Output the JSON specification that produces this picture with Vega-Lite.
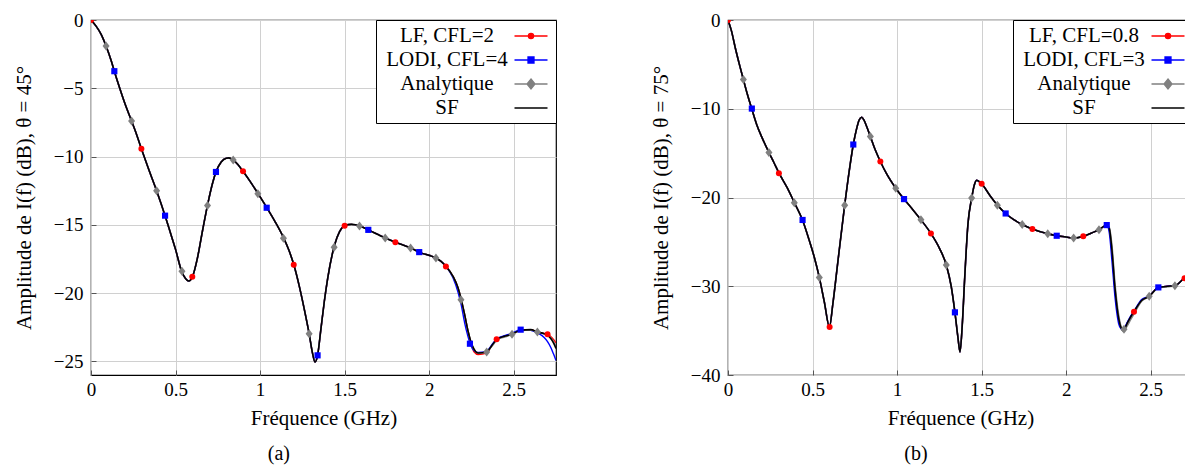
{
  "$schema": "https://vega.github.io/schema/vega-lite/v6.json",
  "background": "white",
  "padding": {"left": 12, "top": 10, "right": 0, "bottom": 0},
  "config": {
    "font": "Liberation Serif, DejaVu Serif, serif",
    "view": {"stroke": "black", "strokeWidth": 1.2},
    "axis": {
      "labelFont": "Liberation Serif, DejaVu Serif, serif", "labelFontSize": 19, "labelColor": "black",
      "titleFont": "Liberation Serif, DejaVu Serif, serif", "titleFontSize": 21, "titleFontWeight": "normal", "titleColor": "black",
      "gridColor": "#d0d0d0", "gridWidth": 1, "domain": false,
      "tickColor": "#555555", "tickSize": -5, "tickWidth": 1,
      "labelFlush": false, "labelOverlap": false, "format": "~g"
    },
    "axisX": {"labelPadding": 10, "titlePadding": 8},
    "axisY": {"labelPadding": 13, "titlePadding": 19},
    "concat": {"spacing": 91}
  },
  "resolve": {"scale": {"color": "independent"}, "legend": {"color": "independent"}},
  "datasets": {
    "aL": [
      {"f":0,"SF":0,"LF":0,"LODI":0,"ANA":0},
      {"f":0.03,"SF":-0.45,"LF":-0.45,"LODI":-0.45,"ANA":-0.45},
      {"f":0.06,"SF":-1.05,"LF":-1.05,"LODI":-1.05,"ANA":-1.05},
      {"f":0.089,"SF":-1.9,"LF":-1.9,"LODI":-1.9,"ANA":-1.9},
      {"f":0.12,"SF":-3.0,"LF":-3.0,"LODI":-3.0,"ANA":-3.0},
      {"f":0.138,"SF":-3.75,"LF":-3.75,"LODI":-3.75,"ANA":-3.75},
      {"f":0.17,"SF":-5.0,"LF":-5.0,"LODI":-5.0,"ANA":-5.0},
      {"f":0.2,"SF":-6.1,"LF":-6.1,"LODI":-6.1,"ANA":-6.1},
      {"f":0.24,"SF":-7.4,"LF":-7.4,"LODI":-7.4,"ANA":-7.4},
      {"f":0.27,"SF":-8.4,"LF":-8.4,"LODI":-8.4,"ANA":-8.4},
      {"f":0.3,"SF":-9.5,"LF":-9.5,"LODI":-9.5,"ANA":-9.5},
      {"f":0.34,"SF":-10.9,"LF":-10.9,"LODI":-10.9,"ANA":-10.9},
      {"f":0.388,"SF":-12.5,"LF":-12.5,"LODI":-12.5,"ANA":-12.5},
      {"f":0.438,"SF":-14.33,"LF":-14.33,"LODI":-14.33,"ANA":-14.33},
      {"f":0.47,"SF":-15.6,"LF":-15.6,"LODI":-15.6,"ANA":-15.6},
      {"f":0.5,"SF":-16.8,"LF":-16.8,"LODI":-16.8,"ANA":-16.8},
      {"f":0.536,"SF":-18.4,"LF":-18.4,"LODI":-18.4,"ANA":-18.4},
      {"f":0.56,"SF":-18.95,"LF":-18.95,"LODI":-18.95,"ANA":-18.95},
      {"f":0.578,"SF":-19.12,"LF":-19.12,"LODI":-19.12,"ANA":-19.12},
      {"f":0.6,"SF":-18.8,"LF":-18.8,"LODI":-18.8,"ANA":-18.8},
      {"f":0.63,"SF":-17.4,"LF":-17.4,"LODI":-17.4,"ANA":-17.4},
      {"f":0.66,"SF":-15.4,"LF":-15.4,"LODI":-15.4,"ANA":-15.4},
      {"f":0.69,"SF":-13.5,"LF":-13.5,"LODI":-13.5,"ANA":-13.5},
      {"f":0.72,"SF":-11.9,"LF":-11.9,"LODI":-11.9,"ANA":-11.9},
      {"f":0.74,"SF":-11.1,"LF":-11.1,"LODI":-11.1,"ANA":-11.1},
      {"f":0.77,"SF":-10.4,"LF":-10.4,"LODI":-10.4,"ANA":-10.4},
      {"f":0.8,"SF":-10.12,"LF":-10.12,"LODI":-10.12,"ANA":-10.12},
      {"f":0.815,"SF":-10.1,"LF":-10.1,"LODI":-10.1,"ANA":-10.1},
      {"f":0.84,"SF":-10.25,"LF":-10.25,"LODI":-10.25,"ANA":-10.25},
      {"f":0.87,"SF":-10.6,"LF":-10.6,"LODI":-10.6,"ANA":-10.6},
      {"f":0.9,"SF":-11.1,"LF":-11.1,"LODI":-11.1,"ANA":-11.1},
      {"f":0.94,"SF":-11.8,"LF":-11.8,"LODI":-11.8,"ANA":-11.8},
      {"f":0.988,"SF":-12.72,"LF":-12.72,"LODI":-12.72,"ANA":-12.72},
      {"f":1.04,"SF":-13.75,"LF":-13.75,"LODI":-13.75,"ANA":-13.75},
      {"f":1.09,"SF":-14.8,"LF":-14.8,"LODI":-14.8,"ANA":-14.8},
      {"f":1.14,"SF":-15.98,"LF":-15.98,"LODI":-15.98,"ANA":-15.98},
      {"f":1.17,"SF":-16.85,"LF":-16.85,"LODI":-16.85,"ANA":-16.85},
      {"f":1.2,"SF":-17.95,"LF":-17.95,"LODI":-17.95,"ANA":-17.95},
      {"f":1.23,"SF":-19.4,"LF":-19.4,"LODI":-19.4,"ANA":-19.4},
      {"f":1.26,"SF":-21.1,"LF":-21.1,"LODI":-21.1,"ANA":-21.1},
      {"f":1.29,"SF":-22.97,"LF":-22.97,"LODI":-22.97,"ANA":-22.97},
      {"f":1.31,"SF":-24.4,"LF":-24.4,"LODI":-24.4,"ANA":-24.4},
      {"f":1.325,"SF":-25.05,"LF":-25.05,"LODI":-25.05,"ANA":-25.05},
      {"f":1.34,"SF":-24.56,"LF":-24.56,"LODI":-24.56,"ANA":-24.56},
      {"f":1.36,"SF":-22.6,"LF":-22.6,"LODI":-22.6,"ANA":-22.6},
      {"f":1.38,"SF":-20.6,"LF":-20.6,"LODI":-20.6,"ANA":-20.6},
      {"f":1.4,"SF":-18.9,"LF":-18.9,"LODI":-18.9,"ANA":-18.9},
      {"f":1.44,"SF":-16.5,"LF":-16.5,"LODI":-16.5,"ANA":-16.5},
      {"f":1.47,"SF":-15.5,"LF":-15.5,"LODI":-15.5,"ANA":-15.5},
      {"f":1.5,"SF":-15.07,"LF":-15.07,"LODI":-15.07,"ANA":-15.07},
      {"f":1.54,"SF":-14.97,"LF":-14.97,"LODI":-14.97,"ANA":-14.97},
      {"f":1.59,"SF":-15.08,"LF":-15.08,"LODI":-15.08,"ANA":-15.08},
      {"f":1.64,"SF":-15.37,"LF":-15.37,"LODI":-15.37,"ANA":-15.37},
      {"f":1.74,"SF":-15.96,"LF":-15.96,"LODI":-15.96,"ANA":-15.96},
      {"f":1.8,"SF":-16.27,"LF":-16.27,"LODI":-16.27,"ANA":-16.27},
      {"f":1.89,"SF":-16.69,"LF":-16.69,"LODI":-16.69,"ANA":-16.69},
      {"f":1.94,"SF":-17.0,"LF":-17.0,"LODI":-17.0,"ANA":-17.0},
      {"f":2.04,"SF":-17.44,"LF":-17.44,"LODI":-17.44,"ANA":-17.44},
      {"f":2.07,"SF":-17.68,"LF":-17.68,"LODI":-17.68,"ANA":-17.68},
      {"f":2.1,"SF":-18.05,"LF":-18.05,"LODI":-18.05,"ANA":-18.05},
      {"f":2.14,"SF":-18.75,"LF":-18.75,"LODI":-18.85,"ANA":-18.75},
      {"f":2.17,"SF":-19.6,"LF":-19.6,"LODI":-19.9,"ANA":-19.6},
      {"f":2.19,"SF":-20.5,"LF":-20.5,"LODI":-20.9,"ANA":-20.5},
      {"f":2.21,"SF":-21.6,"LF":-21.6,"LODI":-22.2,"ANA":-21.6},
      {"f":2.23,"SF":-22.8,"LF":-22.8,"LODI":-23.2,"ANA":-22.8},
      {"f":2.245,"SF":-23.5,"LF":-23.55,"LODI":-23.8,"ANA":-23.5},
      {"f":2.265,"SF":-24.1,"LF":-24.3,"LODI":-24.2,"ANA":-24.1},
      {"f":2.29,"SF":-24.39,"LF":-24.5,"LODI":-24.35,"ANA":-24.39},
      {"f":2.34,"SF":-24.31,"LF":-24.4,"LODI":-24.25,"ANA":-24.31},
      {"f":2.37,"SF":-23.85,"LF":-23.85,"LODI":-23.8,"ANA":-23.9},
      {"f":2.4,"SF":-23.39,"LF":-23.39,"LODI":-23.35,"ANA":-23.45},
      {"f":2.45,"SF":-23.15,"LF":-23.15,"LODI":-23.1,"ANA":-23.2},
      {"f":2.49,"SF":-23.0,"LF":-23.0,"LODI":-22.95,"ANA":-23.02},
      {"f":2.54,"SF":-22.72,"LF":-22.72,"LODI":-22.68,"ANA":-22.75},
      {"f":2.6,"SF":-22.68,"LF":-22.68,"LODI":-22.72,"ANA":-22.7},
      {"f":2.64,"SF":-22.85,"LF":-22.85,"LODI":-22.92,"ANA":-22.85},
      {"f":2.68,"SF":-22.98,"LF":-22.95,"LODI":-23.25,"ANA":-22.98},
      {"f":2.7,"SF":-23.1,"LF":-23.0,"LODI":-23.55,"ANA":-23.05},
      {"f":2.72,"SF":-23.35,"LF":-23.2,"LODI":-24.0,"ANA":-23.3},
      {"f":2.735,"SF":-23.65,"LF":-23.4,"LODI":-24.45,"ANA":-23.55},
      {"f":2.75,"SF":-24.05,"LF":-23.65,"LODI":-24.93,"ANA":-23.9}
    ],
    "aM": [
      {"s":"LF","f":0,"v":0},{"s":"LF","f":0.298,"v":-9.43},{"s":"LF","f":0.599,"v":-18.8},{"s":"LF","f":0.899,"v":-11.08},{"s":"LF","f":1.199,"v":-17.93},{"s":"LF","f":1.5,"v":-15.07},{"s":"LF","f":1.8,"v":-16.27},{"s":"LF","f":2.099,"v":-18.05},{"s":"LF","f":2.399,"v":-23.39},{"s":"LF","f":2.7,"v":-23.02},
      {"s":"LODI","f":0.138,"v":-3.75},{"s":"LODI","f":0.438,"v":-14.33},{"s":"LODI","f":0.739,"v":-11.13},{"s":"LODI","f":1.039,"v":-13.75},{"s":"LODI","f":1.34,"v":-24.56},{"s":"LODI","f":1.64,"v":-15.37},{"s":"LODI","f":1.941,"v":-17.0},{"s":"LODI","f":2.241,"v":-23.71},{"s":"LODI","f":2.541,"v":-22.68},
      {"s":"ANA","f":0.089,"v":-1.9},{"s":"ANA","f":0.24,"v":-7.4},{"s":"ANA","f":0.388,"v":-12.5},{"s":"ANA","f":0.538,"v":-18.4},{"s":"ANA","f":0.689,"v":-13.58},{"s":"ANA","f":0.841,"v":-10.26},{"s":"ANA","f":0.987,"v":-12.72},{"s":"ANA","f":1.138,"v":-15.98},{"s":"ANA","f":1.29,"v":-22.97},{"s":"ANA","f":1.438,"v":-16.64},{"s":"ANA","f":1.588,"v":-15.08},{"s":"ANA","f":1.74,"v":-15.96},{"s":"ANA","f":1.89,"v":-16.69},{"s":"ANA","f":2.04,"v":-17.44},{"s":"ANA","f":2.188,"v":-20.49},{"s":"ANA","f":2.34,"v":-24.31},{"s":"ANA","f":2.49,"v":-23.02},{"s":"ANA","f":2.64,"v":-22.85}
    ],
    "bL": [
      {"f":0,"SF":0,"LF":0,"LODI":0,"ANA":0},
      {"f":0.02,"SF":-1.2,"LF":-1.2,"LODI":-1.2,"ANA":-1.2},
      {"f":0.045,"SF":-3.3,"LF":-3.3,"LODI":-3.3,"ANA":-3.3},
      {"f":0.07,"SF":-5.2,"LF":-5.2,"LODI":-5.2,"ANA":-5.2},
      {"f":0.091,"SF":-6.71,"LF":-6.71,"LODI":-6.71,"ANA":-6.71},
      {"f":0.115,"SF":-8.4,"LF":-8.4,"LODI":-8.4,"ANA":-8.4},
      {"f":0.14,"SF":-9.98,"LF":-9.98,"LODI":-9.98,"ANA":-9.98},
      {"f":0.17,"SF":-11.8,"LF":-11.8,"LODI":-11.8,"ANA":-11.8},
      {"f":0.2,"SF":-13.2,"LF":-13.2,"LODI":-13.2,"ANA":-13.2},
      {"f":0.242,"SF":-14.93,"LF":-14.93,"LODI":-14.93,"ANA":-14.93},
      {"f":0.27,"SF":-16.0,"LF":-16.0,"LODI":-16.0,"ANA":-16.0},
      {"f":0.302,"SF":-17.26,"LF":-17.26,"LODI":-17.26,"ANA":-17.26},
      {"f":0.35,"SF":-18.9,"LF":-18.9,"LODI":-18.9,"ANA":-18.9},
      {"f":0.392,"SF":-20.56,"LF":-20.56,"LODI":-20.56,"ANA":-20.56},
      {"f":0.44,"SF":-22.51,"LF":-22.51,"LODI":-22.51,"ANA":-22.51},
      {"f":0.48,"SF":-24.8,"LF":-24.8,"LODI":-24.8,"ANA":-24.8},
      {"f":0.51,"SF":-26.7,"LF":-26.7,"LODI":-26.7,"ANA":-26.7},
      {"f":0.54,"SF":-29.0,"LF":-29.0,"LODI":-29.0,"ANA":-29.0},
      {"f":0.57,"SF":-31.8,"LF":-31.8,"LODI":-31.8,"ANA":-31.8},
      {"f":0.6,"SF":-34.6,"LF":-34.6,"LODI":-34.6,"ANA":-34.6},
      {"f":0.62,"SF":-32.0,"LF":-32.0,"LODI":-32.0,"ANA":-32.0},
      {"f":0.65,"SF":-27.2,"LF":-27.2,"LODI":-27.2,"ANA":-27.2},
      {"f":0.69,"SF":-20.86,"LF":-20.86,"LODI":-20.86,"ANA":-20.86},
      {"f":0.72,"SF":-16.6,"LF":-16.6,"LODI":-16.6,"ANA":-16.6},
      {"f":0.741,"SF":-14.03,"LF":-14.03,"LODI":-14.03,"ANA":-14.03},
      {"f":0.76,"SF":-12.3,"LF":-12.3,"LODI":-12.3,"ANA":-12.3},
      {"f":0.775,"SF":-11.3,"LF":-11.3,"LODI":-11.3,"ANA":-11.3},
      {"f":0.79,"SF":-10.95,"LF":-10.95,"LODI":-10.95,"ANA":-10.95},
      {"f":0.805,"SF":-11.3,"LF":-11.3,"LODI":-11.3,"ANA":-11.3},
      {"f":0.82,"SF":-12.0,"LF":-12.0,"LODI":-12.0,"ANA":-12.0},
      {"f":0.842,"SF":-13.13,"LF":-13.13,"LODI":-13.13,"ANA":-13.13},
      {"f":0.87,"SF":-14.6,"LF":-14.6,"LODI":-14.6,"ANA":-14.6},
      {"f":0.901,"SF":-15.94,"LF":-15.94,"LODI":-15.94,"ANA":-15.94},
      {"f":0.94,"SF":-17.4,"LF":-17.4,"LODI":-17.4,"ANA":-17.4},
      {"f":0.992,"SF":-18.95,"LF":-18.95,"LODI":-18.95,"ANA":-18.95},
      {"f":1.041,"SF":-20.18,"LF":-20.18,"LODI":-20.18,"ANA":-20.18},
      {"f":1.09,"SF":-21.3,"LF":-21.3,"LODI":-21.3,"ANA":-21.3},
      {"f":1.141,"SF":-22.51,"LF":-22.51,"LODI":-22.51,"ANA":-22.51},
      {"f":1.2,"SF":-24.05,"LF":-24.05,"LODI":-24.05,"ANA":-24.05},
      {"f":1.25,"SF":-25.7,"LF":-25.7,"LODI":-25.7,"ANA":-25.7},
      {"f":1.291,"SF":-27.61,"LF":-27.61,"LODI":-27.61,"ANA":-27.61},
      {"f":1.32,"SF":-30.0,"LF":-30.0,"LODI":-30.0,"ANA":-30.0},
      {"f":1.342,"SF":-32.94,"LF":-32.94,"LODI":-32.94,"ANA":-32.94},
      {"f":1.36,"SF":-35.8,"LF":-35.8,"LODI":-35.8,"ANA":-35.8},
      {"f":1.372,"SF":-37.4,"LF":-37.4,"LODI":-37.4,"ANA":-37.4},
      {"f":1.385,"SF":-34.5,"LF":-34.5,"LODI":-34.5,"ANA":-34.5},
      {"f":1.4,"SF":-29.0,"LF":-29.0,"LODI":-29.0,"ANA":-29.0},
      {"f":1.419,"SF":-23.0,"LF":-23.0,"LODI":-23.0,"ANA":-23.0},
      {"f":1.441,"SF":-20.07,"LF":-20.07,"LODI":-20.07,"ANA":-20.07},
      {"f":1.458,"SF":-18.5,"LF":-18.5,"LODI":-18.5,"ANA":-18.5},
      {"f":1.471,"SF":-18.05,"LF":-18.05,"LODI":-18.05,"ANA":-18.05},
      {"f":1.5,"SF":-18.46,"LF":-18.46,"LODI":-18.46,"ANA":-18.46},
      {"f":1.55,"SF":-19.8,"LF":-19.8,"LODI":-19.8,"ANA":-19.8},
      {"f":1.593,"SF":-20.86,"LF":-20.86,"LODI":-20.86,"ANA":-20.86},
      {"f":1.642,"SF":-21.8,"LF":-21.8,"LODI":-21.8,"ANA":-21.8},
      {"f":1.69,"SF":-22.5,"LF":-22.5,"LODI":-22.5,"ANA":-22.5},
      {"f":1.74,"SF":-23.04,"LF":-23.04,"LODI":-23.04,"ANA":-23.04},
      {"f":1.8,"SF":-23.56,"LF":-23.56,"LODI":-23.56,"ANA":-23.56},
      {"f":1.891,"SF":-24.09,"LF":-24.09,"LODI":-24.09,"ANA":-24.09},
      {"f":1.944,"SF":-24.31,"LF":-24.31,"LODI":-24.31,"ANA":-24.31},
      {"f":2.0,"SF":-24.45,"LF":-24.45,"LODI":-24.45,"ANA":-24.45},
      {"f":2.044,"SF":-24.57,"LF":-24.57,"LODI":-24.57,"ANA":-24.57},
      {"f":2.101,"SF":-24.38,"LF":-24.38,"LODI":-24.38,"ANA":-24.38},
      {"f":2.15,"SF":-24.0,"LF":-24.0,"LODI":-24.0,"ANA":-24.0},
      {"f":2.194,"SF":-23.64,"LF":-23.64,"LODI":-23.64,"ANA":-23.64},
      {"f":2.24,"SF":-23.11,"LF":-23.11,"LODI":-23.11,"ANA":-23.11},
      {"f":2.255,"SF":-23.5,"LF":-23.6,"LODI":-24.0,"ANA":-23.4},
      {"f":2.27,"SF":-25.8,"LF":-26.0,"LODI":-27.0,"ANA":-25.3},
      {"f":2.289,"SF":-30.3,"LF":-30.5,"LODI":-31.3,"ANA":-29.8},
      {"f":2.31,"SF":-33.6,"LF":-33.7,"LODI":-34.2,"ANA":-33.2},
      {"f":2.325,"SF":-34.7,"LF":-34.7,"LODI":-34.8,"ANA":-34.6},
      {"f":2.338,"SF":-35.0,"LF":-34.9,"LODI":-34.9,"ANA":-35.05},
      {"f":2.36,"SF":-34.2,"LF":-34.2,"LODI":-34.1,"ANA":-34.5},
      {"f":2.38,"SF":-33.5,"LF":-33.5,"LODI":-33.4,"ANA":-33.8},
      {"f":2.401,"SF":-32.87,"LF":-32.87,"LODI":-32.8,"ANA":-33.1},
      {"f":2.446,"SF":-31.6,"LF":-31.6,"LODI":-31.5,"ANA":-31.7},
      {"f":2.491,"SF":-31.14,"LF":-31.14,"LODI":-31.1,"ANA":-31.14},
      {"f":2.545,"SF":-30.13,"LF":-30.13,"LODI":-30.13,"ANA":-30.2},
      {"f":2.6,"SF":-30.0,"LF":-30.0,"LODI":-30.0,"ANA":-30.05},
      {"f":2.643,"SF":-29.94,"LF":-29.94,"LODI":-29.94,"ANA":-29.94},
      {"f":2.696,"SF":-29.15,"LF":-29.12,"LODI":-29.15,"ANA":-29.15},
      {"f":2.75,"SF":-28.6,"LF":-28.6,"LODI":-28.6,"ANA":-28.6}
    ],
    "bM": [
      {"s":"LF","f":0,"v":0},{"s":"LF","f":0.301,"v":-17.26},{"s":"LF","f":0.601,"v":-34.6},{"s":"LF","f":0.901,"v":-15.94},{"s":"LF","f":1.2,"v":-24.05},{"s":"LF","f":1.5,"v":-18.46},{"s":"LF","f":1.8,"v":-23.56},{"s":"LF","f":2.101,"v":-24.38},{"s":"LF","f":2.401,"v":-32.87},{"s":"LF","f":2.7,"v":-29.11},
      {"s":"LODI","f":0.141,"v":-9.98},{"s":"LODI","f":0.441,"v":-22.53},{"s":"LODI","f":0.741,"v":-14.03},{"s":"LODI","f":1.041,"v":-20.18},{"s":"LODI","f":1.342,"v":-32.94},{"s":"LODI","f":1.642,"v":-21.8},{"s":"LODI","f":1.944,"v":-24.31},{"s":"LODI","f":2.24,"v":-23.11},{"s":"LODI","f":2.545,"v":-30.13},
      {"s":"ANA","f":0.091,"v":-6.71},{"s":"ANA","f":0.242,"v":-14.93},{"s":"ANA","f":0.392,"v":-20.6},{"s":"ANA","f":0.54,"v":-29.0},{"s":"ANA","f":0.69,"v":-20.86},{"s":"ANA","f":0.842,"v":-13.13},{"s":"ANA","f":0.992,"v":-18.95},{"s":"ANA","f":1.141,"v":-22.51},{"s":"ANA","f":1.291,"v":-27.61},{"s":"ANA","f":1.441,"v":-20.07},{"s":"ANA","f":1.593,"v":-20.86},{"s":"ANA","f":1.74,"v":-23.04},{"s":"ANA","f":1.891,"v":-24.09},{"s":"ANA","f":2.044,"v":-24.57},{"s":"ANA","f":2.194,"v":-23.64},{"s":"ANA","f":2.342,"v":-34.85},{"s":"ANA","f":2.491,"v":-31.14},{"s":"ANA","f":2.643,"v":-29.94}
    ]
  },
  "hconcat": [
    {
      "width": 465, "height": 355,
      "title": {"text": "(a)", "orient": "bottom", "frame": "bounds", "anchor": "middle", "font": "Liberation Serif, DejaVu Serif, serif", "fontSize": 20, "fontWeight": "normal", "color": "black", "offset": 16, "dx": -6},
      "layer": [
        {"data": {"name": "aL"}, "transform": [{"fold": ["LF"], "as": ["s", "v"]}],
         "mark": {"type": "line", "clip": true, "interpolate": "monotone", "strokeWidth": 1.4},
         "encoding": {
           "x": {"field": "f", "type": "quantitative", "scale": {"domain": [0, 2.75], "nice": false, "zero": false}, "axis": {"values": [0, 0.5, 1, 1.5, 2, 2.5], "title": "Fréquence (GHz)", "labelFont": "Liberation Serif", "titleFont": "Liberation Serif"}},
           "y": {"field": "v", "type": "quantitative", "scale": {"domain": [-26, 0], "nice": false, "zero": false}, "axis": {"values": [-25, -20, -15, -10, -5, 0], "title": "Amplitude de I(f) (dB), θ = 45°", "labelFont": "Liberation Serif", "titleFont": "Liberation Serif"}},
           "color": {"field": "s", "type": "nominal",
             "scale": {"domain": ["LF", "LODI", "ANA", "SF"], "range": ["#ff0000", "#0000ff", "#808080", "#000000"]},
             "legend": {"title": null, "orient": "top-right", "offset": 0, "padding": 5, "strokeColor": "black", "fillColor": "white",
               "labelFont": "Liberation Serif, DejaVu Serif, serif", "labelFontSize": 21, "labelColor": "black", "labelAlign": "center", "labelOffset": -95, "labelLimit": 0,
               "symbolOffset": 139, "symbolSize": 400, "rowPadding": 3,
               "labelExpr": "datum.label === 'LF' ? 'LF, CFL=2' : datum.label === 'LODI' ? 'LODI, CFL=4' : datum.label === 'ANA' ? 'Analytique' : 'SF'",
               "encode": {"symbols": {"update": {
                 "shape": {"signal": "datum.value === 'LF' ? 'M-1.65,0H1.65M-0.26,0A0.26,0.26 0 1,0 0.26,0A0.26,0.26 0 1,0 -0.26,0Z' : datum.value === 'LODI' ? 'M-1.65,0H1.65M-0.3,-0.3H0.3V0.3H-0.3Z' : datum.value === 'ANA' ? 'M-1.65,0H1.65M0,-0.5L0.4,0L0,0.5L-0.4,0Z' : 'M-1.65,0H1.65'"},
                 "size": {"value": 400},
                 "fill": {"signal": "datum.value === 'LF' ? '#ff0000' : datum.value === 'LODI' ? '#0000ff' : datum.value === 'ANA' ? '#808080' : '#000000'"},
                 "stroke": {"signal": "datum.value === 'LF' ? '#ff0000' : datum.value === 'LODI' ? '#0000ff' : datum.value === 'ANA' ? '#808080' : '#000000'"},
                 "strokeWidth": {"value": 1.3}, "opacity": {"value": 1}, "fillOpacity": {"value": 1}, "strokeOpacity": {"value": 1}
               }}}
             }}
         }},
        {"data": {"name": "aL"}, "transform": [{"fold": ["LODI"], "as": ["s", "v"]}],
         "mark": {"type": "line", "clip": true, "interpolate": "monotone", "strokeWidth": 1.4},
         "encoding": {"x": {"field": "f", "type": "quantitative"}, "y": {"field": "v", "type": "quantitative"}, "color": {"field": "s", "type": "nominal"}}},
        {"data": {"name": "aL"}, "transform": [{"fold": ["ANA"], "as": ["s", "v"]}],
         "mark": {"type": "line", "clip": true, "interpolate": "monotone", "strokeWidth": 1.6},
         "encoding": {"x": {"field": "f", "type": "quantitative"}, "y": {"field": "v", "type": "quantitative"}, "color": {"field": "s", "type": "nominal"}}},
        {"data": {"name": "aL"}, "transform": [{"fold": ["SF"], "as": ["s", "v"]}],
         "mark": {"type": "line", "clip": true, "interpolate": "monotone", "strokeWidth": 1.6},
         "encoding": {"x": {"field": "f", "type": "quantitative"}, "y": {"field": "v", "type": "quantitative"}, "color": {"field": "s", "type": "nominal"}}},
        {"data": {"name": "aM"}, "transform": [{"filter": "datum.s === 'LF'"}],
         "mark": {"type": "point", "filled": true, "opacity": 1, "strokeWidth": 0, "clip": true, "shape": "circle", "size": 36},
         "encoding": {"x": {"field": "f", "type": "quantitative"}, "y": {"field": "v", "type": "quantitative"}, "color": {"field": "s", "type": "nominal"}}},
        {"data": {"name": "aM"}, "transform": [{"filter": "datum.s === 'LODI'"}],
         "mark": {"type": "point", "filled": true, "opacity": 1, "strokeWidth": 0, "clip": true, "shape": "square", "size": 38},
         "encoding": {"x": {"field": "f", "type": "quantitative"}, "y": {"field": "v", "type": "quantitative"}, "color": {"field": "s", "type": "nominal"}}},
        {"data": {"name": "aM"}, "transform": [{"filter": "datum.s === 'ANA'"}],
         "mark": {"type": "point", "filled": true, "opacity": 1, "strokeWidth": 0, "clip": true, "shape": "M0,-1L0.78,0L0,1L-0.78,0Z", "size": 81},
         "encoding": {"x": {"field": "f", "type": "quantitative"}, "y": {"field": "v", "type": "quantitative"}, "color": {"field": "s", "type": "nominal"}}}
      ]
    },
    {
      "width": 465, "height": 355,
      "title": {"text": "(b)", "orient": "bottom", "frame": "bounds", "anchor": "middle", "font": "Liberation Serif, DejaVu Serif, serif", "fontSize": 20, "fontWeight": "normal", "color": "black", "offset": 16, "dx": -6},
      "layer": [
        {"data": {"name": "bL"}, "transform": [{"fold": ["LF"], "as": ["s", "v"]}],
         "mark": {"type": "line", "clip": true, "interpolate": "monotone", "strokeWidth": 1.4},
         "encoding": {
           "x": {"field": "f", "type": "quantitative", "scale": {"domain": [0, 2.75], "nice": false, "zero": false}, "axis": {"values": [0, 0.5, 1, 1.5, 2, 2.5], "title": "Fréquence (GHz)", "labelFont": "Liberation Serif", "titleFont": "Liberation Serif"}},
           "y": {"field": "v", "type": "quantitative", "scale": {"domain": [-40, 0], "nice": false, "zero": false}, "axis": {"values": [-40, -30, -20, -10, 0], "title": "Amplitude de I(f) (dB), θ = 75°", "labelFont": "Liberation Serif", "titleFont": "Liberation Serif"}},
           "color": {"field": "s", "type": "nominal",
             "scale": {"domain": ["LF", "LODI", "ANA", "SF"], "range": ["#ff0000", "#0000ff", "#808080", "#000000"]},
             "legend": {"title": null, "orient": "top-right", "offset": 0, "padding": 5, "strokeColor": "black", "fillColor": "white",
               "labelFont": "Liberation Serif, DejaVu Serif, serif", "labelFontSize": 21, "labelColor": "black", "labelAlign": "center", "labelOffset": -95, "labelLimit": 0,
               "symbolOffset": 139, "symbolSize": 400, "rowPadding": 3,
               "labelExpr": "datum.label === 'LF' ? 'LF, CFL=0.8' : datum.label === 'LODI' ? 'LODI, CFL=3' : datum.label === 'ANA' ? 'Analytique' : 'SF'",
               "encode": {"symbols": {"update": {
                 "shape": {"signal": "datum.value === 'LF' ? 'M-1.65,0H1.65M-0.26,0A0.26,0.26 0 1,0 0.26,0A0.26,0.26 0 1,0 -0.26,0Z' : datum.value === 'LODI' ? 'M-1.65,0H1.65M-0.3,-0.3H0.3V0.3H-0.3Z' : datum.value === 'ANA' ? 'M-1.65,0H1.65M0,-0.5L0.4,0L0,0.5L-0.4,0Z' : 'M-1.65,0H1.65'"},
                 "size": {"value": 400},
                 "fill": {"signal": "datum.value === 'LF' ? '#ff0000' : datum.value === 'LODI' ? '#0000ff' : datum.value === 'ANA' ? '#808080' : '#000000'"},
                 "stroke": {"signal": "datum.value === 'LF' ? '#ff0000' : datum.value === 'LODI' ? '#0000ff' : datum.value === 'ANA' ? '#808080' : '#000000'"},
                 "strokeWidth": {"value": 1.3}, "opacity": {"value": 1}, "fillOpacity": {"value": 1}, "strokeOpacity": {"value": 1}
               }}}
             }}
         }},
        {"data": {"name": "bL"}, "transform": [{"fold": ["LODI"], "as": ["s", "v"]}],
         "mark": {"type": "line", "clip": true, "interpolate": "monotone", "strokeWidth": 1.4},
         "encoding": {"x": {"field": "f", "type": "quantitative"}, "y": {"field": "v", "type": "quantitative"}, "color": {"field": "s", "type": "nominal"}}},
        {"data": {"name": "bL"}, "transform": [{"fold": ["ANA"], "as": ["s", "v"]}],
         "mark": {"type": "line", "clip": true, "interpolate": "monotone", "strokeWidth": 1.6},
         "encoding": {"x": {"field": "f", "type": "quantitative"}, "y": {"field": "v", "type": "quantitative"}, "color": {"field": "s", "type": "nominal"}}},
        {"data": {"name": "bL"}, "transform": [{"fold": ["SF"], "as": ["s", "v"]}],
         "mark": {"type": "line", "clip": true, "interpolate": "monotone", "strokeWidth": 1.6},
         "encoding": {"x": {"field": "f", "type": "quantitative"}, "y": {"field": "v", "type": "quantitative"}, "color": {"field": "s", "type": "nominal"}}},
        {"data": {"name": "bM"}, "transform": [{"filter": "datum.s === 'LF'"}],
         "mark": {"type": "point", "filled": true, "opacity": 1, "strokeWidth": 0, "clip": true, "shape": "circle", "size": 36},
         "encoding": {"x": {"field": "f", "type": "quantitative"}, "y": {"field": "v", "type": "quantitative"}, "color": {"field": "s", "type": "nominal"}}},
        {"data": {"name": "bM"}, "transform": [{"filter": "datum.s === 'LODI'"}],
         "mark": {"type": "point", "filled": true, "opacity": 1, "strokeWidth": 0, "clip": true, "shape": "square", "size": 38},
         "encoding": {"x": {"field": "f", "type": "quantitative"}, "y": {"field": "v", "type": "quantitative"}, "color": {"field": "s", "type": "nominal"}}},
        {"data": {"name": "bM"}, "transform": [{"filter": "datum.s === 'ANA'"}],
         "mark": {"type": "point", "filled": true, "opacity": 1, "strokeWidth": 0, "clip": true, "shape": "M0,-1L0.78,0L0,1L-0.78,0Z", "size": 81},
         "encoding": {"x": {"field": "f", "type": "quantitative"}, "y": {"field": "v", "type": "quantitative"}, "color": {"field": "s", "type": "nominal"}}}
      ]
    }
  ]
}
